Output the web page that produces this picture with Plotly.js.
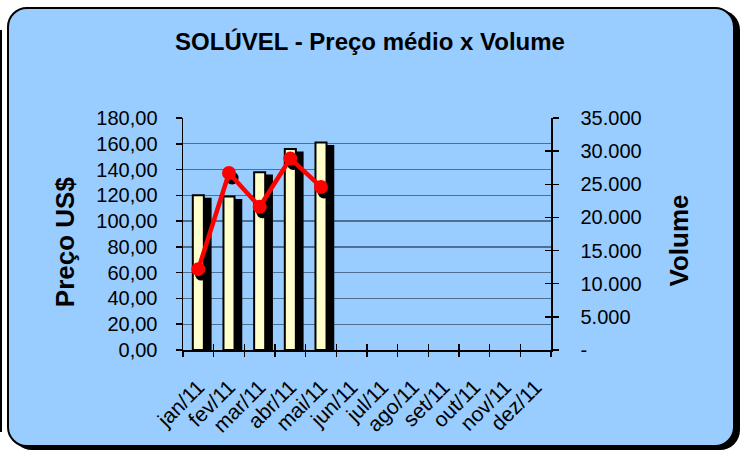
<!DOCTYPE html>
<html>
<head>
<meta charset="utf-8">
<script src="https://cdn.plot.ly/plotly-3.0.1.min.js"></script>
<style>
  html, body { margin: 0; padding: 0; background: #ffffff; }
  #wrap { position: relative; width: 747px; height: 450px; overflow: hidden; }
  #frame { position: absolute; left: 7px; top: 7px; width: 728px; height: 440px; box-sizing: border-box;
           border: 2px solid #000; border-radius: 20px; background: #99CCFF; box-shadow: 5px 3px 0 #000; }
  #edge { position: absolute; left: 0; top: 30px; width: 2px; height: 402px; background: #000; }
  #chart { position: absolute; left: 0; top: 0; width: 747px; height: 450px; }
</style>
</head>
<body>
<div id="wrap">
  <div id="edge"></div>
  <div id="frame"></div>
  <div id="chart"></div>
</div>
<script>
const months = ['jan/11','fev/11','mar/11','abr/11','mai/11','jun/11','jul/11','ago/11','set/11','out/11','nov/11','dez/11'];
const price  = [120, 119, 138, 156, 161, null, null, null, null, null, null, null];
const volume = [12200, 26700, 21600, 28900, 24600, null, null, null, null, null, null, null];
const priceTicks = [0, 20, 40, 60, 80, 100, 120, 140, 160, 180];
const priceTickText = ['0,00','20,00','40,00','60,00','80,00','100,00','120,00','140,00','160,00','180,00'];
const volTicks = [0, 5000, 10000, 15000, 20000, 25000, 30000, 35000];
const volTickText = ['-','5.000','10.000','15.000','20.000','25.000','30.000','35.000'];

const idx = months.map((_, i) => i);
const bounds = months.concat(['']).map((_, i) => i - 0.5);
const FONT = 'Liberation Sans, Arial, sans-serif';

const traces = [
  { type: 'bar', x: idx.map(i => i + 0.22), y: price.map(v => v == null ? null : v - 2.7), width: 0.36,
    marker: { color: '#000', line: { color: '#000', width: 2 } }, hoverinfo: 'skip' },
  { type: 'bar', x: idx, y: price, width: 0.36,
    marker: { color: '#FFFFCC', line: { color: '#000', width: 2 } } },
  { type: 'scatter', mode: 'markers', x: idx.map(i => i + 0.1), y: volume.map(v => v == null ? null : v - 750),
    yaxis: 'y2', marker: { color: '#000', size: 13 }, hoverinfo: 'skip' },
  { type: 'scatter', mode: 'lines+markers', x: idx, y: volume, yaxis: 'y2',
    line: { color: '#FF0000', width: 4.5 }, marker: { color: '#FF0000', size: 14 } },
  { type: 'scatter', mode: 'markers', x: [null], y: [null], xaxis: 'x2', yaxis: 'y', hoverinfo: 'skip' },
  { type: 'scatter', mode: 'markers', x: [null], y: [null], xaxis: 'x3', yaxis: 'y', hoverinfo: 'skip' },
  { type: 'scatter', mode: 'markers', x: [null], y: [null], xaxis: 'x', yaxis: 'y3', hoverinfo: 'skip' }
];

const tickAxisBase = {
  overlaying: 'x', anchor: 'y', side: 'bottom', range: [-0.5, 11.5], tickmode: 'array', tickvals: bounds,
  ticklen: 6, tickwidth: 1.5, tickcolor: '#000', showticklabels: false, showgrid: false, zeroline: false, showline: false
};

const layout = {
  width: 747, height: 450,
  margin: { l: 183, r: 196, t: 118, b: 100 },
  paper_bgcolor: 'rgba(0,0,0,0)', plot_bgcolor: 'rgba(0,0,0,0)',
  showlegend: false, barmode: 'overlay',
  font: { family: FONT, color: '#000' },
  title: { text: '<b>SOLÚVEL - Preço médio x Volume</b>', font: { size: 24, family: FONT, color: '#000' },
           x: 370 / 747, xanchor: 'center', xref: 'container', yref: 'container', y: 1 - 42 / 450, yanchor: 'middle' },
  xaxis: { range: [-0.5, 11.5], tickmode: 'array', tickvals: idx, ticktext: months, tickangle: -45, ticks: '',
           showline: true, linecolor: '#000', linewidth: 1.5, showgrid: false, zeroline: false,
           tickfont: { size: 21 }, ticklabelstandoff: 15 },
  xaxis2: Object.assign({}, tickAxisBase, { ticks: 'outside' }),
  xaxis3: Object.assign({}, tickAxisBase, { ticks: 'inside' }),
  yaxis: { range: [0, 180], tickmode: 'array', tickvals: priceTicks, ticktext: priceTickText,
           ticks: 'outside', ticklen: 6, tickwidth: 1.5, tickcolor: '#000',
           showline: true, linecolor: '#000', linewidth: 1.5,
           showgrid: true, gridcolor: '#4f6f90', gridwidth: 1.3, zeroline: false,
           tickfont: { size: 20 }, ticklabelstandoff: 14 },
  yaxis2: { overlaying: 'y', side: 'right', anchor: 'x', range: [0, 35000], tickmode: 'array',
            tickvals: volTicks, ticktext: volTickText, ticks: 'outside', ticklen: 6, tickwidth: 1.5, tickcolor: '#000',
            showline: true, linecolor: '#000', linewidth: 1.5, showgrid: false, zeroline: false,
            tickfont: { size: 20 }, ticklabelstandoff: 18 },
  yaxis3: { overlaying: 'y', side: 'right', anchor: 'x', range: [0, 35000], tickmode: 'array',
            tickvals: volTicks, ticks: 'inside', ticklen: 6, tickwidth: 1.5, tickcolor: '#000',
            showticklabels: false, showgrid: false, zeroline: false, showline: false },
  annotations: [
    { text: '<b>Preço US$</b>', xref: 'paper', yref: 'paper', x: (64.5 - 183) / 368, y: (350 - 241.7) / 232,
      xanchor: 'center', yanchor: 'middle', textangle: -90, showarrow: false, font: { size: 26, family: FONT, color: '#000' } },
    { text: '<b>Volume</b>', xref: 'paper', yref: 'paper', x: (678 - 183) / 368, y: (350 - 240.5) / 232,
      xanchor: 'center', yanchor: 'middle', textangle: -90, showarrow: false, font: { size: 26, family: FONT, color: '#000' } }
  ]
};

Plotly.newPlot('chart', traces, layout, { staticPlot: true, displayModeBar: false });
</script>
</body>
</html>
